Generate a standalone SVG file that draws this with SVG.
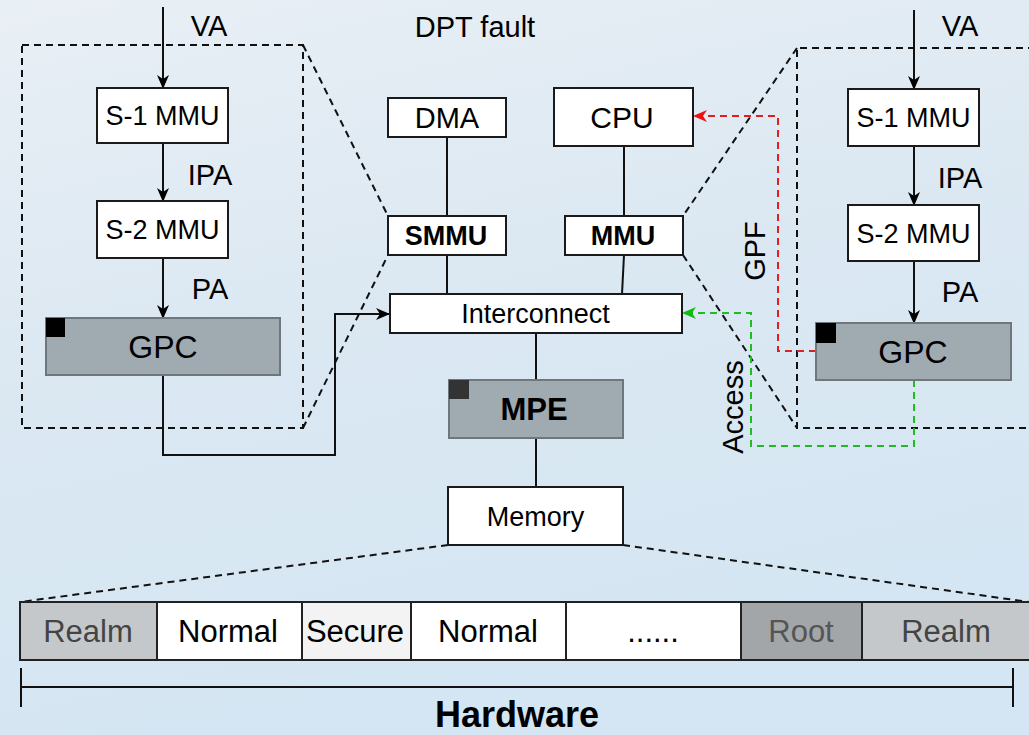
<svg xmlns="http://www.w3.org/2000/svg" width="1029" height="735" viewBox="0 0 1029 735">
<defs>
<linearGradient id="bg" x1="0" y1="0" x2="0.3" y2="1">
<stop offset="0" stop-color="#e9eff5"/>
<stop offset="0.5" stop-color="#dbe8f2"/>
<stop offset="1" stop-color="#d4e6f3"/>
</linearGradient>
<marker id="ab" markerWidth="14" markerHeight="12" refX="13" refY="6" orient="auto" markerUnits="userSpaceOnUse">
<path d="M0,0 L14,6 L0,12 L4,6 Z" fill="#000"/>
</marker>
<marker id="ar" markerWidth="14" markerHeight="12" refX="13" refY="6" orient="auto" markerUnits="userSpaceOnUse">
<path d="M0,0 L14,6 L0,12 L4,6 Z" fill="#ee1111"/>
</marker>
<marker id="ag" markerWidth="14" markerHeight="12" refX="13" refY="6" orient="auto" markerUnits="userSpaceOnUse">
<path d="M0,0 L14,6 L0,12 L4,6 Z" fill="#11bb11"/>
</marker>
</defs>
<style>
text{font-family:"Liberation Sans",Arial,sans-serif;fill:#000;}
.box{fill:#fff;stroke:#1a1a1a;stroke-width:2;}
.gpc{fill:#a0aab1;stroke:#6f777d;stroke-width:2;}
.ln{fill:none;stroke:#111;stroke-width:2;}
.dash{fill:none;stroke:#111;stroke-width:2;stroke-dasharray:7,5;}
.red{fill:none;stroke:#e02020;stroke-width:2;stroke-dasharray:7,5;}
.grn{fill:none;stroke:#22bb22;stroke-width:2;stroke-dasharray:7,5;}
.cell{stroke:#222;stroke-width:2;}
.grey{fill:#444;}
.root{fill:#555;}
</style>
<rect width="1029" height="735" fill="url(#bg)"/>

<g id="connectors">
<line class="ln" x1="163" y1="7" x2="163" y2="88" marker-end="url(#ab)"/>
<line class="ln" x1="163" y1="143" x2="163" y2="201" marker-end="url(#ab)"/>
<line class="ln" x1="163" y1="258" x2="163" y2="318" marker-end="url(#ab)"/>
<polyline class="ln" points="163,375 163,455 335,455 335,314 389,314" marker-end="url(#ab)"/>
<rect class="dash" x="22" y="45" width="281" height="383"/>
<line class="dash" x1="303" y1="45" x2="388" y2="216"/>
<line class="dash" x1="303" y1="428" x2="388" y2="255"/>
<line class="ln" x1="447" y1="137" x2="447" y2="216"/>
<line class="ln" x1="447" y1="255" x2="447" y2="294"/>
<line class="ln" x1="624" y1="146" x2="624" y2="216"/>
<line class="ln" x1="624" y1="255" x2="622" y2="294"/>
<line class="ln" x1="536" y1="333" x2="536" y2="380"/>
<line class="ln" x1="536" y1="438" x2="536" y2="487"/>
<line class="ln" x1="914" y1="10" x2="914" y2="89" marker-end="url(#ab)"/>
<line class="ln" x1="914" y1="146" x2="914" y2="205" marker-end="url(#ab)"/>
<line class="ln" x1="914" y1="261" x2="914" y2="323" marker-end="url(#ab)"/>
<polyline class="dash" points="1035,48 797,48 797,428 1035,428"/>
<line class="dash" x1="797" y1="48" x2="683" y2="216"/>
<line class="dash" x1="683" y1="255" x2="797" y2="428"/>
<polyline class="red" points="816,351 778,351 778,116 694,116" marker-end="url(#ar)"/>
<polyline class="grn" points="914,380 914,446 751,446 751,313 683,313" marker-end="url(#ag)"/>
<line class="dash" x1="448" y1="545" x2="20" y2="602"/>
<line class="dash" x1="623" y1="545" x2="1029" y2="602"/>
</g>

<g id="labels">
<text x="209" y="36" font-size="29" text-anchor="middle">VA</text>
<text x="210" y="185" font-size="29" text-anchor="middle">IPA</text>
<text x="210" y="299" font-size="29" text-anchor="middle">PA</text>
<text x="960" y="36" font-size="29" text-anchor="middle">VA</text>
<text x="960" y="188" font-size="29" text-anchor="middle">IPA</text>
<text x="960" y="302" font-size="29" text-anchor="middle">PA</text>
<text x="475" y="37" font-size="29" text-anchor="middle">DPT fault</text>
<text transform="translate(765,251) rotate(-90)" font-size="29" text-anchor="middle">GPF</text>
<text transform="translate(743,407) rotate(-90)" font-size="29" text-anchor="middle">Access</text>
</g>

<g id="s1-left"><rect class="box" x="97" y="88" width="131" height="55"/><text x="162.5" y="125" font-size="27" text-anchor="middle">S-1 MMU</text></g>
<g id="s2-left"><rect class="box" x="97" y="201" width="131" height="57"/><text x="162.5" y="239" font-size="27" text-anchor="middle">S-2 MMU</text></g>
<g id="gpc-left"><rect class="gpc" x="46" y="318" width="234" height="57"/><rect x="46" y="318" width="19" height="19" fill="#000"/><text x="163" y="358" font-size="32" text-anchor="middle">GPC</text></g>

<g id="dma"><rect class="box" x="388" y="98" width="118" height="39"/><text x="447" y="128" font-size="29" text-anchor="middle">DMA</text></g>
<g id="cpu"><rect class="box" x="554" y="88" width="139" height="58"/><text x="622" y="128" font-size="30" text-anchor="middle">CPU</text></g>
<g id="smmu"><rect class="box" x="388" y="216" width="118" height="39"/><text x="446" y="245" font-size="27" font-weight="bold" text-anchor="middle">SMMU</text></g>
<g id="mmu"><rect class="box" x="565" y="216" width="118" height="39"/><text x="623" y="245" font-size="27" font-weight="bold" text-anchor="middle">MMU</text></g>
<g id="interconnect"><rect class="box" x="390" y="294" width="292" height="39"/><text x="535.5" y="323" font-size="27" text-anchor="middle">Interconnect</text></g>
<g id="mpe"><rect class="gpc" x="449" y="380" width="174" height="58"/><rect x="449" y="380" width="20" height="19" fill="#333"/><text x="534" y="420" font-size="31" font-weight="bold" text-anchor="middle">MPE</text></g>
<g id="memory"><rect class="box" x="448" y="487" width="175" height="58"/><text x="535.5" y="526" font-size="27" text-anchor="middle">Memory</text></g>

<g id="s1-right"><rect class="box" x="848" y="89" width="131" height="57"/><text x="913.5" y="127" font-size="27" text-anchor="middle">S-1 MMU</text></g>
<g id="s2-right"><rect class="box" x="848" y="205" width="131" height="56"/><text x="913.5" y="243" font-size="27" text-anchor="middle">S-2 MMU</text></g>
<g id="gpc-right"><rect class="gpc" x="816" y="323" width="195" height="57"/><rect x="816" y="323" width="20" height="20" fill="#000"/><text x="913" y="363" font-size="32" text-anchor="middle">GPC</text></g>

<g id="memory-map">
<rect class="cell" x="20" y="602" width="137" height="58" fill="#c4c8cb"/>
<rect class="cell" x="157" y="602" width="145" height="58" fill="#fff"/>
<rect class="cell" x="302" y="602" width="109" height="58" fill="#f3f3f3"/>
<rect class="cell" x="411" y="602" width="155" height="58" fill="#fff"/>
<rect class="cell" x="566" y="602" width="175" height="58" fill="#fff"/>
<rect class="cell" x="741" y="602" width="121" height="58" fill="#a3a6a9"/>
<rect class="cell" x="862" y="602" width="172" height="58" fill="#c4c8cb"/>
<text class="grey" x="88" y="642" font-size="31" text-anchor="middle">Realm</text>
<text x="228" y="642" font-size="31" text-anchor="middle">Normal</text>
<text x="355" y="642" font-size="31" text-anchor="middle">Secure</text>
<text x="488" y="642" font-size="31" text-anchor="middle">Normal</text>
<text x="653" y="642" font-size="31" text-anchor="middle">......</text>
<text class="root" x="801" y="642" font-size="31" text-anchor="middle">Root</text>
<text class="grey" x="946" y="642" font-size="31" text-anchor="middle">Realm</text>
</g>

<g id="hardware">
<line class="ln" x1="21" y1="687" x2="1013" y2="687"/>
<line class="ln" x1="21" y1="668" x2="21" y2="707"/>
<line class="ln" x1="1013" y1="668" x2="1013" y2="707"/>
<text x="517" y="727" font-size="36" font-weight="bold" text-anchor="middle">Hardware</text>
</g>
</svg>
